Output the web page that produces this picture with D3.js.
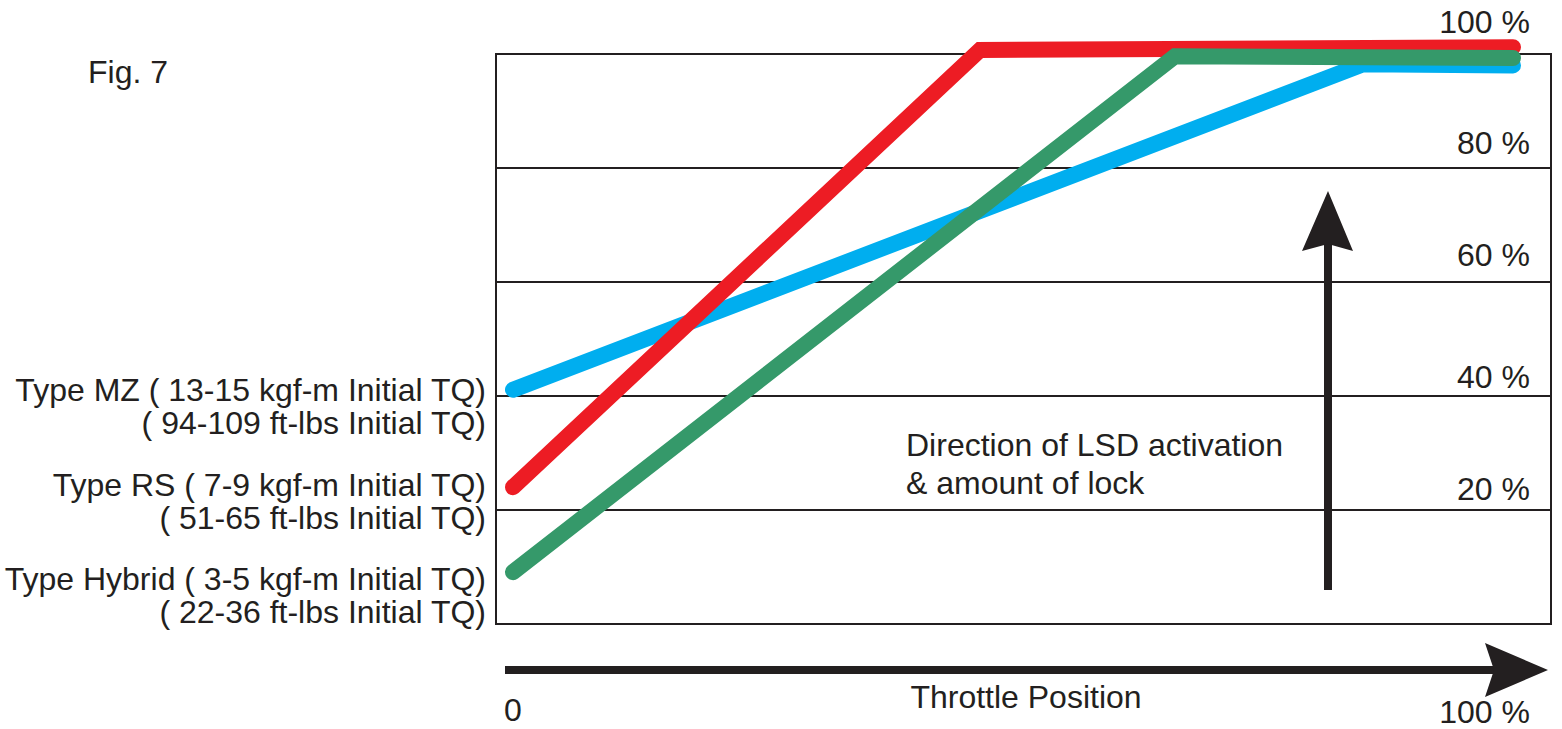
<!DOCTYPE html>
<html>
<head>
<meta charset="utf-8">
<script src="https://cdn.jsdelivr.net/npm/d3@7"></script>
<style>
  html, body { margin: 0; padding: 0; background: #fff; }
  text { font-family: "Liberation Sans", Arial, Helvetica, sans-serif; fill: #231f20; }
</style>
</head>
<body>
<div id="chart"></div>
<script>
// throttle position (%) vs amount of lock (%)
const seriesNames = ["MZ", "RS", "Hybrid"];
const seriesColors = ["#00aeef", "#ed1c24", "#35996a"];
const mzPoints = [[0, 41.1], [85, 98.2], [100, 98.0]];
const rsPoints = [[0, 24.0], [46.7, 100.7], [100, 101.2]];
const hybridPoints = [[0, 9.1], [66.2, 99.6], [100, 99.3]];

const gridTicks = [20, 40, 60, 80];
const rightLabels = [20, 40, 60, 80, 100];

const typeLabels = [
  ["Type MZ ( 13-15 kgf-m Initial TQ)", "( 94-109 ft-lbs Initial TQ)"],
  ["Type RS ( 7-9 kgf-m Initial TQ)", "( 51-65 ft-lbs Initial TQ)"],
  ["Type Hybrid ( 3-5 kgf-m Initial TQ)", "( 22-36 ft-lbs Initial TQ)"]
];

const width = 1562;
const height = 729;
const FONT = 32;

// frame of the plot
const frame = {left: 496, right: 1551, top: 54, bottom: 624};

const x = d3.scaleLinear().domain([0, 100]).range([513, 1513]);
const y = d3.scaleLinear().domain([0, 100]).range([frame.bottom, frame.top]);

const svg = d3.select("#chart")
  .append("svg")
  .attr("width", width)
  .attr("height", height)
  .attr("viewBox", `0 0 ${width} ${height}`);

// Fig. label
svg.append("text")
  .attr("x", 88)
  .attr("y", 83)
  .attr("font-size", FONT)
  .text("Fig. 7");

// box
svg.append("rect")
  .attr("x", frame.left)
  .attr("y", frame.top)
  .attr("width", frame.right - frame.left)
  .attr("height", frame.bottom - frame.top)
  .attr("fill", "none")
  .attr("stroke", "#231f20")
  .attr("stroke-width", 2);

// horizontal grid lines
svg.append("g")
  .selectAll("line")
  .data(gridTicks)
  .enter()
  .append("line")
  .attr("x1", frame.left)
  .attr("x2", frame.right)
  .attr("y1", d => y(d))
  .attr("y2", d => y(d))
  .attr("stroke", "#231f20")
  .attr("stroke-width", 2);

// percentage labels on the right, above each line (label gap differs a bit per line)
const labelGap = {20: 10, 40: 8, 60: 16, 80: 14, 100: 21};
svg.append("g")
  .selectAll("text")
  .data(rightLabels)
  .enter()
  .append("text")
  .attr("x", 1530)
  .attr("y", d => y(d) - labelGap[d])
  .attr("text-anchor", "end")
  .attr("font-size", FONT)
  .text(d => `${d} %`);

// vertical arrow (direction of LSD activation)
const vArrow = svg.append("g").attr("fill", "#231f20");
vArrow.append("rect")
  .attr("x", 1324)
  .attr("y", 240)
  .attr("width", 8)
  .attr("height", 350);
vArrow.append("path")
  .attr("d", "M1328,191 L1353,251 L1328,244 L1302,251 Z");

svg.append("text")
  .attr("x", 906)
  .attr("y", 456)
  .attr("font-size", FONT)
  .text("Direction of LSD activation");
svg.append("text")
  .attr("x", 906)
  .attr("y", 494)
  .attr("font-size", FONT)
  .text("& amount of lock");

// series lines
const line = d3.line()
  .x(d => x(d[0]))
  .y(d => y(d[1]));

const allSeries = [mzPoints, rsPoints, hybridPoints];

svg.append("g")
  .selectAll("path")
  .data(allSeries)
  .enter()
  .append("path")
  .attr("d", line)
  .attr("fill", "none")
  .attr("stroke", (d, i) => seriesColors[i])
  .attr("stroke-width", 16)
  .attr("stroke-linecap", "round")
  .attr("stroke-linejoin", "miter")
  .attr("class", (d, i) => `series-${seriesNames[i]}`);

// type labels on the left
const labelBaselines = [401, 496, 590];
const labelGroups = svg.append("g")
  .selectAll("g")
  .data(typeLabels)
  .enter()
  .append("g");

labelGroups.selectAll("text")
  .data((d, i) => d.map((t, j) => ({t, yy: labelBaselines[i] + j * 33})))
  .enter()
  .append("text")
  .attr("x", 486)
  .attr("y", d => d.yy)
  .attr("text-anchor", "end")
  .attr("font-size", FONT)
  .text(d => d.t);

// horizontal arrow (throttle position)
const hArrow = svg.append("g").attr("fill", "#231f20");
hArrow.append("rect")
  .attr("x", 505)
  .attr("y", 666)
  .attr("width", 990)
  .attr("height", 8);
hArrow.append("path")
  .attr("d", "M1548,670 L1485,697 L1494,670 L1485,643 Z");

svg.append("text")
  .attr("x", x(0))
  .attr("y", 721)
  .attr("text-anchor", "middle")
  .attr("font-size", FONT)
  .text("0");

svg.append("text")
  .attr("x", 1530)
  .attr("y", 723)
  .attr("text-anchor", "end")
  .attr("font-size", FONT)
  .text("100 %");

svg.append("text")
  .attr("x", 1026)
  .attr("y", 708)
  .attr("text-anchor", "middle")
  .attr("font-size", FONT)
  .text("Throttle Position");
</script>
</body>
</html>
